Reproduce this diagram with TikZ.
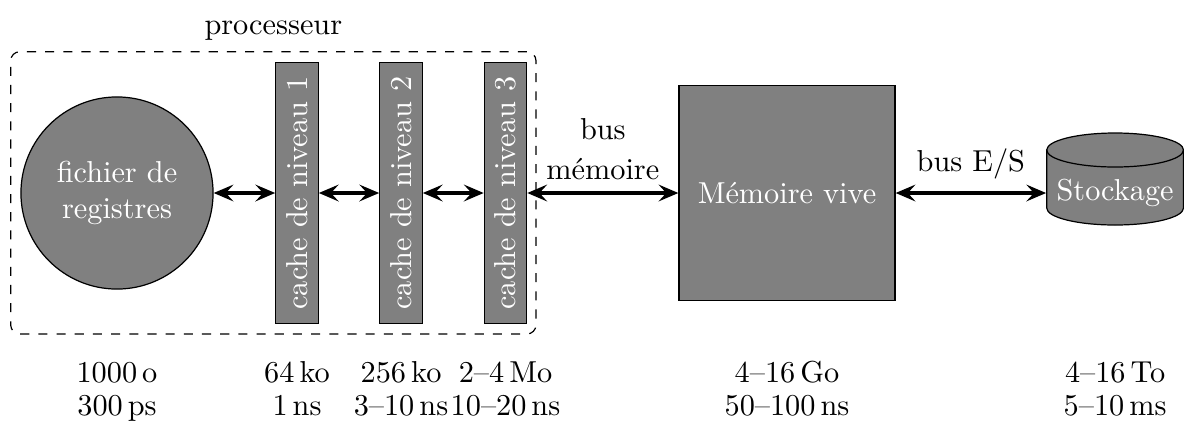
\documentclass[tikz,border=0pt]{standalone}
\usepackage{fontspec}
\usetikzlibrary{arrows.meta}
\begin{document}
\begin{tikzpicture}[x=0.33pt,y=0.33pt,
  unit/.style={fill=gray, draw=black, text=white, inner sep=0pt},
  cachebox/.style={unit, rotate=90, minimum width=86pt, minimum height=14pt},
  link/.style={line width=1pt, {Stealth[length=6.5pt,width=5.5pt,inset=2.5pt]}-{Stealth[length=6.5pt,width=5.5pt,inset=2.5pt]}},
  txt/.style={anchor=base, inner sep=0pt},
  buslabel/.style={inner sep=0pt, align=center}]
\useasboundingbox (0,0) rectangle (1184,425);

% processor frame
\node[draw, dashed, rounded corners=3pt, minimum width=173.35pt, minimum height=93.16pt, inner sep=0pt] (proc) at (273.35,232.15) {};
\node[above] (proclab) at (proc.north) {processeur};

% units
\node[unit, circle, minimum size=63.4pt, align=center] (reg) at (117,232) {fichier de\\registres};
\node[cachebox] (c1) at (297,232) {cache de niveau 1};
\node[cachebox] (c2) at (401,232) {cache de niveau 2};
\node[cachebox] (c3) at (505.5,232) {cache de niveau 3};
\node[unit, minimum width=71.3pt, minimum height=71pt] (mem) at (787,232) {Mémoire vive};

% storage cylinder
\path[fill=gray, draw=black] (1046.7,275) -- (1046.7,217)
  arc[start angle=180, end angle=360, x radius=22.57pt, y radius=5.61pt]
  -- (1183.5,275)
  arc[start angle=0, end angle=180, x radius=22.57pt, y radius=5.61pt] -- cycle;
\draw (1046.7,275) arc[start angle=180, end angle=360, x radius=22.57pt, y radius=5.61pt];
\node[inner sep=0pt, minimum width=45.14pt, minimum height=20pt, text=white] (stock) at (1115.1,232) {Stockage};

% connectors (rotated boxes: north = left side, south = right side)
\draw[link] (reg.east) -- (c1.north);
\draw[link] (c1.south) -- (c2.north);
\draw[link] (c2.south) -- (c3.north);
\draw[link] (c3.south) -- (mem.west) node[midway, above=4pt, buslabel] (busmem) {bus\\[1pt]mémoire};
\draw[link] (mem.east) -- (stock.west) node[midway, above=4.2pt, buslabel] (busio) {bus E/S};

% capacities and latencies
\node[txt] (s0) at (117,42.3) {1000\,o};
\node[txt] (t0) at (117,9.6) {300\,ps};
\node[txt] (s1) at (297,42.3) {64\,ko};
\node[txt] (t1) at (297,9.6) {1\,ns};
\node[txt] (s2) at (401,42.3) {256\,ko};
\node[txt] (t2) at (401,9.6) {3--10\,ns};
\node[txt] (s3) at (505.5,42.3) {2--4\,Mo};
\node[txt] (t3) at (505.5,9.6) {10--20\,ns};
\node[txt] (s4) at (787,42.3) {4--16\,Go};
\node[txt] (t4) at (787,9.6) {50--100\,ns};
\node[txt] (s5) at (1115.1,42.3) {4--16\,To};
\node[txt] (t5) at (1115.1,9.6) {5--10\,ms};
\end{tikzpicture}
\end{document}
